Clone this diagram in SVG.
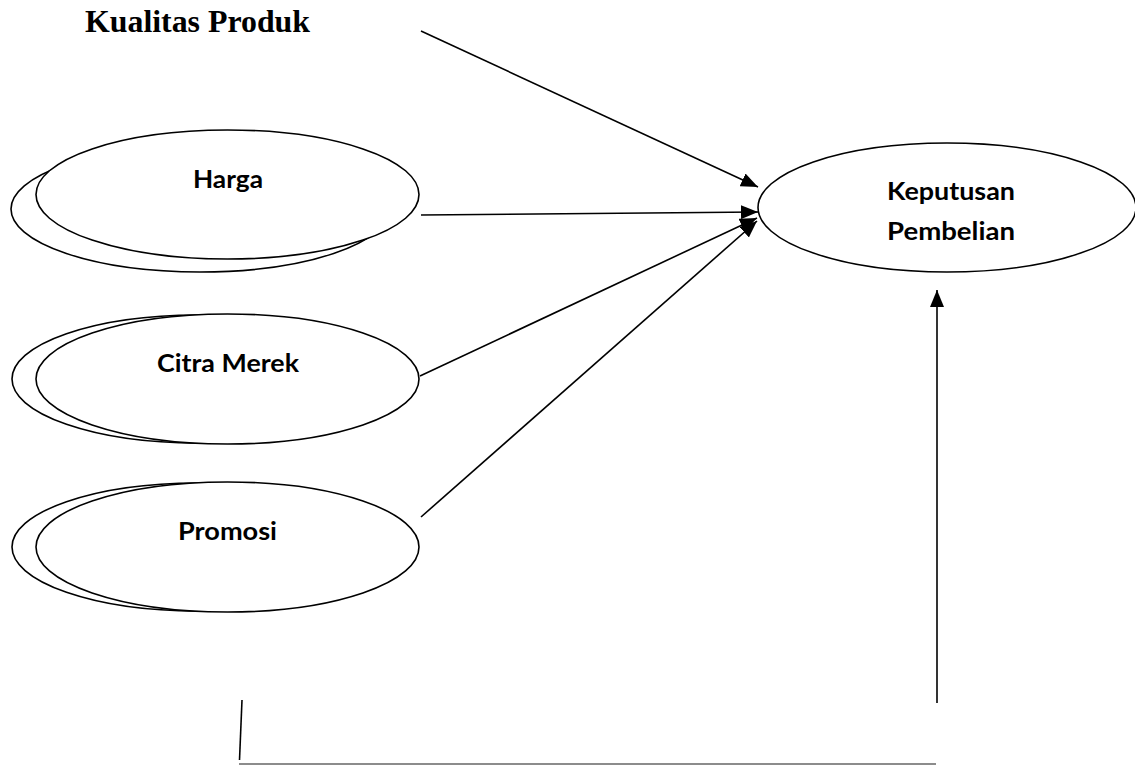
<svg xmlns="http://www.w3.org/2000/svg" width="1135" height="765" viewBox="0 0 1135 765">
<style>
.shape{fill:#fff;stroke:#000;stroke-width:1.6}
.lbl{font-family:Lato,"Liberation Sans",sans-serif;font-weight:bold;font-size:25px;fill:#000;text-anchor:middle}
.title{font-family:"Liberation Serif","Times New Roman",serif;font-weight:bold;font-size:31px;fill:#000}
.conn{stroke:#000;stroke-width:1.6;fill:none}
</style>
<defs>
<marker id="ah" markerUnits="userSpaceOnUse" markerWidth="18" markerHeight="14" refX="17" refY="7" orient="auto">
<path d="M0,0 L17,7 L0,14 z" fill="#000"/>
</marker>
</defs>
<rect width="1135" height="765" fill="#fff"/>
<g id="kualitas-produk">
<text class="title" x="85" y="32" textLength="225" lengthAdjust="spacingAndGlyphs">Kualitas Produk</text>
</g>
<g id="harga">
<ellipse class="shape" cx="200" cy="209" rx="189" ry="63"/>
<ellipse class="shape" cx="227.5" cy="194.5" rx="191.5" ry="64.5"/>
<text class="lbl" x="228" y="188" textLength="70" lengthAdjust="spacingAndGlyphs">Harga</text>
</g>
<g id="citra-merek">
<ellipse class="shape" cx="198" cy="379" rx="186" ry="64"/>
<ellipse class="shape" cx="227.5" cy="379" rx="191.5" ry="65"/>
<text class="lbl" x="228" y="372" textLength="142" lengthAdjust="spacingAndGlyphs">Citra Merek</text>
</g>
<g id="promosi">
<ellipse class="shape" cx="198" cy="547" rx="186" ry="64"/>
<ellipse class="shape" cx="227.5" cy="547" rx="191.5" ry="65"/>
<text class="lbl" x="227.5" y="540" textLength="99" lengthAdjust="spacingAndGlyphs">Promosi</text>
</g>
<g id="keputusan-pembelian">
<ellipse class="shape" cx="947" cy="207.5" rx="189" ry="64.5"/>
<text class="lbl" x="951" y="200" textLength="128" lengthAdjust="spacingAndGlyphs">Keputusan</text>
<text class="lbl" x="951" y="240" textLength="128" lengthAdjust="spacingAndGlyphs">Pembelian</text>
</g>
<g id="connectors">
<line class="conn" x1="421" y1="31" x2="758" y2="187" marker-end="url(#ah)"/>
<line class="conn" x1="421" y1="215" x2="758" y2="212" marker-end="url(#ah)"/>
<line class="conn" x1="420" y1="376" x2="757" y2="218" marker-end="url(#ah)"/>
<line class="conn" x1="421" y1="517" x2="757" y2="221" marker-end="url(#ah)"/>
<line class="conn" x1="937" y1="703" x2="937" y2="290" marker-end="url(#ah)"/>
<line class="conn" x1="242" y1="700" x2="239.5" y2="760"/>
<line x1="239" y1="764" x2="936" y2="764" stroke="#666" stroke-width="1.6"/>
</g>
</svg>
